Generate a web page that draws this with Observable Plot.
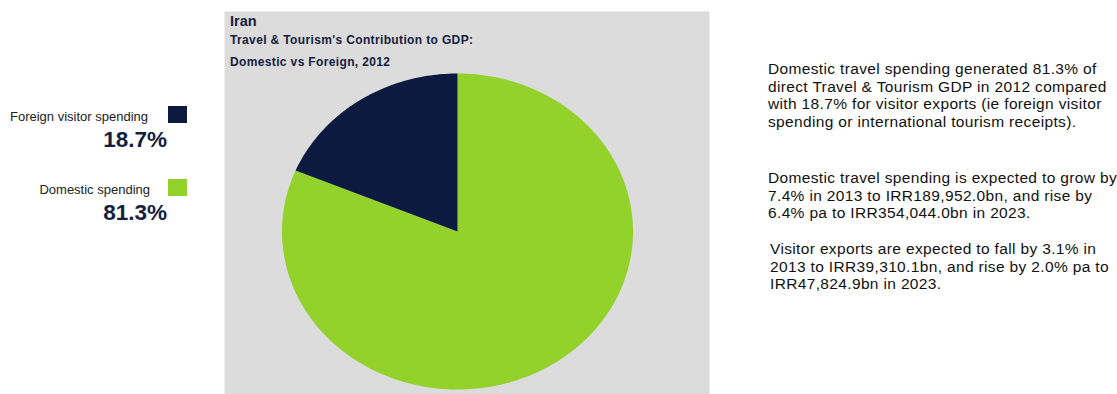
<!DOCTYPE html>
<html>
<head>
<meta charset="utf-8">
<script src="https://cdn.jsdelivr.net/npm/d3@7"></script>
<script src="https://cdn.jsdelivr.net/npm/@observablehq/plot@0.6"></script>
<style>
  html, body { margin: 0; padding: 0; background: #ffffff; }
  #wrap { position: relative; width: 1117px; height: 394px; overflow: hidden; font-family: "Liberation Sans", Arial, sans-serif; }
  #chart { position: absolute; left: 0; top: 0; }
  .abs { position: absolute; white-space: nowrap; }
  .title { color: #14203f; font-weight: bold; }
  .leg { color: #222; font-size: 13px; text-align: right; }
  .pct { color: #14203f; font-size: 22.5px; font-weight: bold; text-align: right; }
  .sw { position: absolute; width: 19px; height: 17px; }
  .para { color: #111; font-size: 15.5px; letter-spacing: 0.35px; line-height: 17.7px; }
</style>
</head>
<body>
<div id="wrap">
  <div id="chart"></div>
</div>
<script>
// ---- data ----
const categories = ["Domestic spending", "Foreign visitor spending"];
const shares = [81.3, 18.7];
const sliceColors = ["#93d12b", "#0b1a3e"];
const titleLines = ["Iran", "Travel & Tourism's Contribution to GDP:", "Domestic vs Foreign, 2012"];
const paragraphs = [
  ["Domestic travel spending generated 81.3% of", "direct Travel & Tourism GDP in 2012 compared", "with 18.7% for visitor exports (ie foreign visitor", "spending or international tourism receipts)."],
  ["Domestic travel spending is expected to grow by", "7.4% in 2013 to IRR189,952.0bn, and rise by", "6.4% pa to IRR354,044.0bn in 2023."],
  ["Visitor exports are expected to fall by 3.1% in", "2013 to IRR39,310.1bn, and rise by 2.0% pa to", "IRR47,824.9bn in 2023."]
];

// ---- build slice outlines from pie angles ----
const arcs = d3.pie().sort(null)(shares);
const pts = [];
arcs.forEach((a, i) => {
  const cat = categories[i];
  pts.push({cat, x: 0, y: 0});
  const n = Math.max(2, Math.ceil((a.endAngle - a.startAngle) / (Math.PI / 180)));
  for (let k = 0; k <= n; k++) {
    const t = a.startAngle + (a.endAngle - a.startAngle) * k / n;
    pts.push({cat, x: Math.sin(t), y: Math.cos(t)});
  }
  pts.push({cat, x: 0, y: 0});
});

const W = 1117, H = 394;
const chart = Plot.plot({
  width: W,
  height: H,
  marginLeft: 224,
  marginRight: 408,
  marginTop: 11,
  marginBottom: 0,
  style: {background: "transparent"},
  x: {domain: [-1, 1], range: [281.5, 632.5], axis: null},
  y: {domain: [-1, 1], range: [389, 73], axis: null},
  color: {domain: categories, range: sliceColors},
  marks: [
    Plot.frame({fill: "#dcdcdc", stroke: null}),
    Plot.line(pts, {x: "x", y: "y", z: "cat", fill: "cat", stroke: null, curve: "linear"})
  ]
});
document.getElementById("chart").appendChild(chart);

// ---- HTML text overlays ----
const wrap = document.getElementById("wrap");
function add(cls, html, css) {
  const d = document.createElement("div");
  d.className = cls;
  d.innerHTML = html;
  Object.assign(d.style, css);
  wrap.appendChild(d);
  return d;
}
// title
add("abs title", titleLines[0], {left: "230px", top: "13px", fontSize: "14.5px"});
add("abs title", titleLines[1].replace(/&/g, "&amp;"), {left: "230px", top: "33px", fontSize: "12px", letterSpacing: "0.36px"});
add("abs title", titleLines[2], {left: "230px", top: "55px", fontSize: "12px", letterSpacing: "0.36px"});

// legend (foreign first, as in the reference)
const legendOrder = [1, 0];
const legTops = [109, 182];
const legRights = [148, 150];
legendOrder.forEach((idx, j) => {
  const top = legTops[j];
  add("abs leg", categories[idx], {right: (1117 - legRights[j]) + "px", top: top + "px"});
  add("abs pct", shares[idx].toFixed(1) + "%", {right: (1117 - 167) + "px", top: (top + 18) + "px"});
  const sw = document.createElement("div");
  sw.className = "sw";
  Object.assign(sw.style, {left: "168px", top: (top - 3) + "px", background: sliceColors[idx]});
  wrap.appendChild(sw);
});

// right-hand commentary
const paraTops = [60, 169, 240];
const paraLefts = [768, 768, 770];
paragraphs.forEach((lines, i) => {
  add("abs para", lines.map(s => s.replace(/&/g, "&amp;")).join("<br>"), {left: paraLefts[i] + "px", top: paraTops[i] + "px"});
});
</script>
</body>
</html>
